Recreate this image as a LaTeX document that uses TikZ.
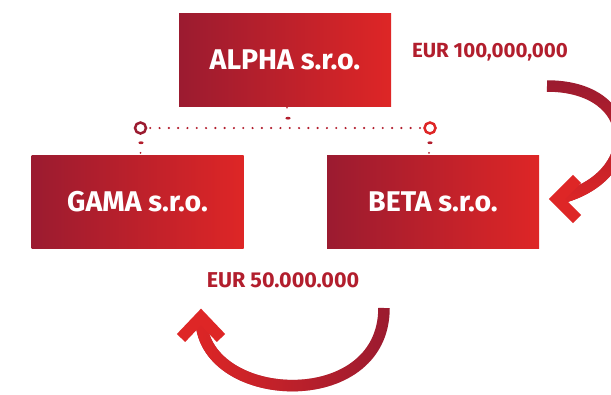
\documentclass[tikz,border=0pt]{standalone}
\usepackage{fontspec}
\setmainfont{Fira Sans}
\usetikzlibrary{fadings,calc}
\definecolor{rdark}{RGB}{155,27,48}
\definecolor{rbright}{RGB}{222,38,38}
\definecolor{rmid}{RGB}{178,30,45}
\tikzfading[name=fadeLtoR, left color=transparent!0, right color=transparent!100]
\tikzfading[name=fadeTtoB, top color=transparent!100, bottom color=transparent!0]
\tikzset{
  company/.style={rectangle, inner sep=0pt, minimum width=212pt, minimum height=93pt,
    left color=rdark, right color=rbright, text=white, font=\fontsize{28.5}{32}\selectfont\bfseries},
  amount/.style={inner sep=0pt, text=rmid, font=\fontsize{20.5}{24}\selectfont\bfseries},
  ring/.style={circle, draw, line width=2.5pt, minimum size=11pt, inner sep=0pt},
  dotline/.style={draw=rmid, line width=2.4pt, line cap=round, dash pattern=on 0pt off 9.3pt},
  bigstroke/.style={line width=11.5pt},
  chevron/.style={draw=rbright, line width=11.5pt, line join=miter, miter limit=4},
  tickmark/.style={fill=rmid}
}
\begin{document}
\begin{tikzpicture}[x=1pt,y=-1pt]
\useasboundingbox (0,0) rectangle (611,394);
\begin{scope}
\clip (0,0) rectangle (611,394);
% companies
\node[company] (alpha) at (285,59.5) {ALPHA s.r.o.};
\node[company] (gama) at (137.5,202) {GAMA s.r.o.};
\node[company] (beta) at (433,202) {BETA s.r.o.};
% rings and dotted line
\node[ring, draw=rdark] (cl) at (140.5,128) {};
\node[ring, draw=rbright] (cr) at (430,128) {};
\path[dotline] ($(cl.east)+(3,0)$) -- ($(cr.west)+(-1,0)$);
% small connector marks
\fill[tickmark] ($(alpha.south)+(2,1.6)$) circle (0.9);
\fill[tickmark] ($(alpha.south)+(3,12)$) ellipse (2.6 and 1.4);
\fill[tickmark] ($(cl.south)+(0.5,8)$) ellipse (2.6 and 1.4);
\fill[tickmark] ($(gama.north -| cl)+(0,-2.5)$) circle (1);
\fill[tickmark] ($(cr.south)+(0,8)$) ellipse (2.6 and 1.4);
\fill[tickmark] ($(beta.north -| cr)+(-1,-2.5)$) circle (1);
% amounts
\node[amount] (e1) at (490,52) {EUR 100,000,000};
\node[amount, font=\fontsize{21.5}{24}\selectfont\bfseries] (e2) at (283,280) {EUR 50.000.000};
% arrow 1 (top right)
\coordinate (a1s) at (547,86);
\coordinate (a1e) at (557,199);
\draw[bigstroke, draw=rdark] (a1s) .. controls (640,86) and (645,178) .. (a1e);
\draw[bigstroke, draw=rbright, path fading=fadeTtoB] (a1s) .. controls (640,86) and (645,178) .. (a1e);
\draw[chevron] (577,179) -- (a1e) -- (577,219);
% arrow 2 (bottom)
\coordinate (a2s) at (384,308);
\coordinate (a2e) at (201,317);
\draw[bigstroke, draw=rdark] (a2s) .. controls (384,415) and (200,405) .. (a2e);
\draw[bigstroke, draw=rbright, path fading=fadeLtoR] (a2s) .. controls (384,415) and (200,405) .. (a2e);
\draw[chevron] (181,338) -- (a2e) -- (221,338);
\end{scope}
\end{tikzpicture}
\end{document}
